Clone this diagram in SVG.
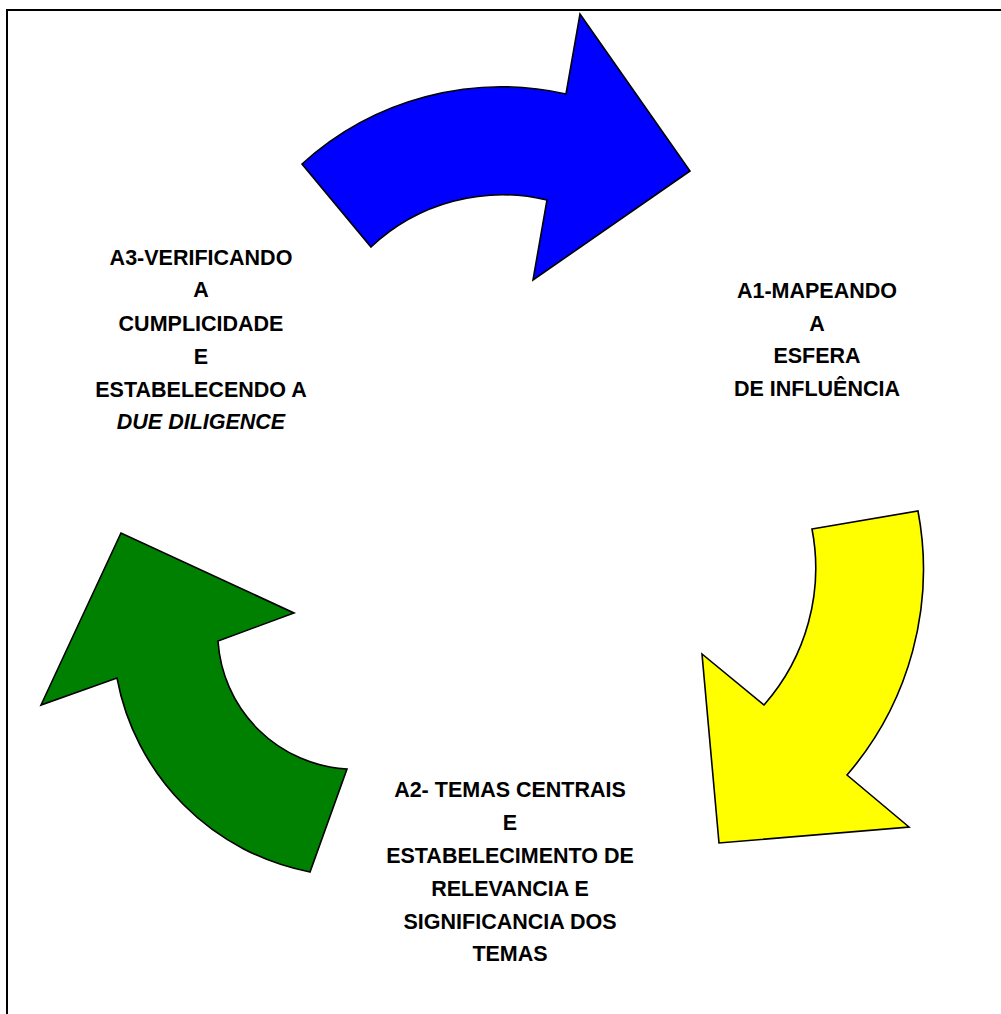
<svg xmlns="http://www.w3.org/2000/svg" width="1001" height="1014" viewBox="0 0 1001 1014">
  <style>
    .arrow { stroke: #000000; stroke-width: 1.6; stroke-linejoin: miter; }
    .lbl { font-family: "Liberation Sans", Arial, sans-serif; font-weight: bold; font-size: 21.5px; fill: #000000; text-anchor: middle; }
  </style>
  <rect width="1001" height="1014" fill="#ffffff"/>
  <path d="M7,1014 V10 H1001" fill="none" stroke="#000000" stroke-width="2"/>
  <g id="connectors">
    <path id="arrow-blue" class="arrow" fill="#0000FF" d="M302,164 A296,296 0 0 1 566,94 L580,14 L690,171 L533,280 L547,200 A192,192 0 0 0 371,247 Z"/>
    <path id="arrow-yellow" class="arrow" fill="#FFFF00" d="M812,529 L918,511 A315,315 0 0 1 847,775 L909,827 L719,843 L702,654 L764,705 A207,207 0 0 0 812,529 Z"/>
    <path id="arrow-green" class="arrow" fill="#008000" d="M347,769 L310,872 A243,243 0 0 1 117,678 L41,705 L121,533 L294,613 L218,641 A137,137 0 0 0 347,769 Z"/>
  </g>
  <g id="node-a1">
    <text class="lbl" x="817" y="298">A1-MAPEANDO</text>
    <text class="lbl" x="817" y="331">A</text>
    <text class="lbl" x="817" y="363">ESFERA</text>
    <text class="lbl" x="817" y="396">DE INFLUÊNCIA</text>
  </g>
  <g id="node-a2">
    <text class="lbl" x="510" y="797">A2- TEMAS CENTRAIS</text>
    <text class="lbl" x="510" y="830">E</text>
    <text class="lbl" x="510" y="863">ESTABELECIMENTO DE</text>
    <text class="lbl" x="510" y="896">RELEVANCIA E</text>
    <text class="lbl" x="510" y="929">SIGNIFICANCIA DOS</text>
    <text class="lbl" x="510" y="961">TEMAS</text>
  </g>
  <g id="node-a3">
    <text class="lbl" x="201" y="265">A3-VERIFICANDO</text>
    <text class="lbl" x="201" y="297">A</text>
    <text class="lbl" x="201" y="331">CUMPLICIDADE</text>
    <text class="lbl" x="201" y="364">E</text>
    <text class="lbl" x="201" y="397">ESTABELECENDO A</text>
    <text class="lbl" x="201" y="429" font-style="italic">DUE DILIGENCE</text>
  </g>
</svg>
